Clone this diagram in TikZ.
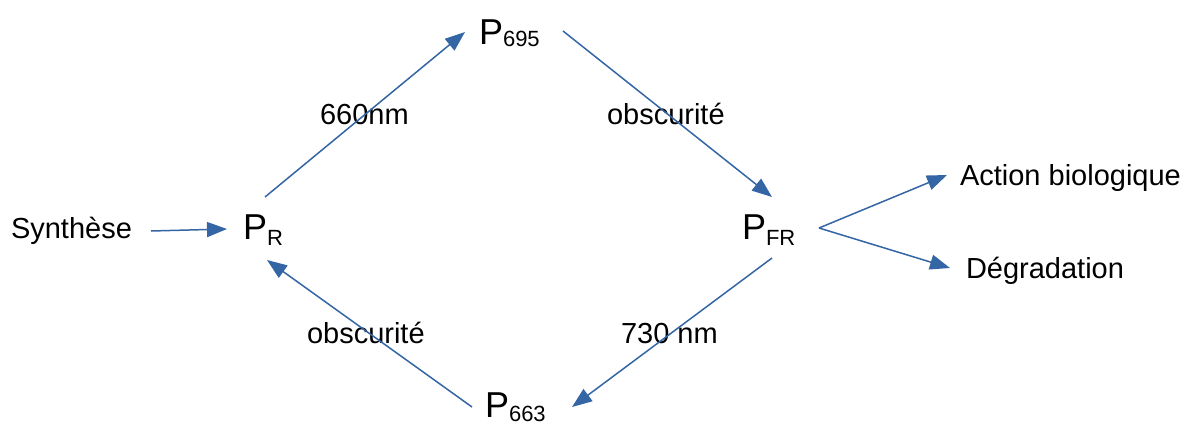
\documentclass[tikz,border=0pt]{standalone}
\usepackage{fontspec}
\setmainfont{Liberation Sans}
\usetikzlibrary{arrows.meta}
\definecolor{lineblue}{RGB}{52,101,164}
\newcommand\bigP[3]{{\fontsize{18}{18}\selectfont P}\raisebox{-#3}{\fontsize{#2}{#2}\selectfont #1}}
\begin{document}
\begin{tikzpicture}[x=0.5pt,y=-0.5pt,
  every node/.style={inner sep=0pt,outer sep=0pt,anchor=base west},
  lbl/.style={font=\fontsize{14.5}{14.5}\selectfont},
  arr/.style={draw=lineblue,line width=0.75pt,-{Triangle[length=10pt,width=7.5pt]},fill=lineblue}]
\useasboundingbox (0,0) rectangle (1186,423);
\node (pr)    at (243,239) {\bigP{R}{11}{3pt}};
\node (p695)  at (479,44)  {\bigP{695}{11}{1.5pt}};
\node (pfr)   at (742,239) {\bigP{FR}{11}{3pt}};
\node (p663)  at (485,417) {\bigP{663}{11}{2pt}};
\node[lbl] (synth)  at (11,238)  {Synthèse};
\node[lbl] (action) at (960,185) {Action biologique};
\node[lbl] (degr)   at (966,278) {Dégradation};
\node[lbl] (l660)   at (320,124) {660nm};
\node[lbl] (lobs1)  at (607,124) {obscurité};
\node[lbl] (l730)   at (621,343) {730 nm};
\node[lbl] (lobs2)  at (307,343) {obscurité};
\draw[arr] ([shift={(140,-7)}]synth.base west) -- ([shift={(-16,-10)}]pr.base west);
\draw[arr] ([shift={(22,-42)}]pr.base west) -- ([shift={(-14,-12)}]p695.base west);
\draw[arr] ([shift={(84,-13)}]p695.base west) -- ([shift={(30,-42)}]pfr.base west);
\draw[arr] ([shift={(77,-11)}]pfr.base west) -- ([shift={(-13,-10)}]action.base west);
\draw[arr] ([shift={(77,-11)}]pfr.base west) -- ([shift={(-16,-10)}]degr.base west);
\draw[arr] ([shift={(30,19)}]pfr.base west) -- ([shift={(87,-10)}]p663.base west);
\draw[arr] ([shift={(-13,-10)}]p663.base west) -- ([shift={(24,21)}]pr.base west);
\end{tikzpicture}
\end{document}
